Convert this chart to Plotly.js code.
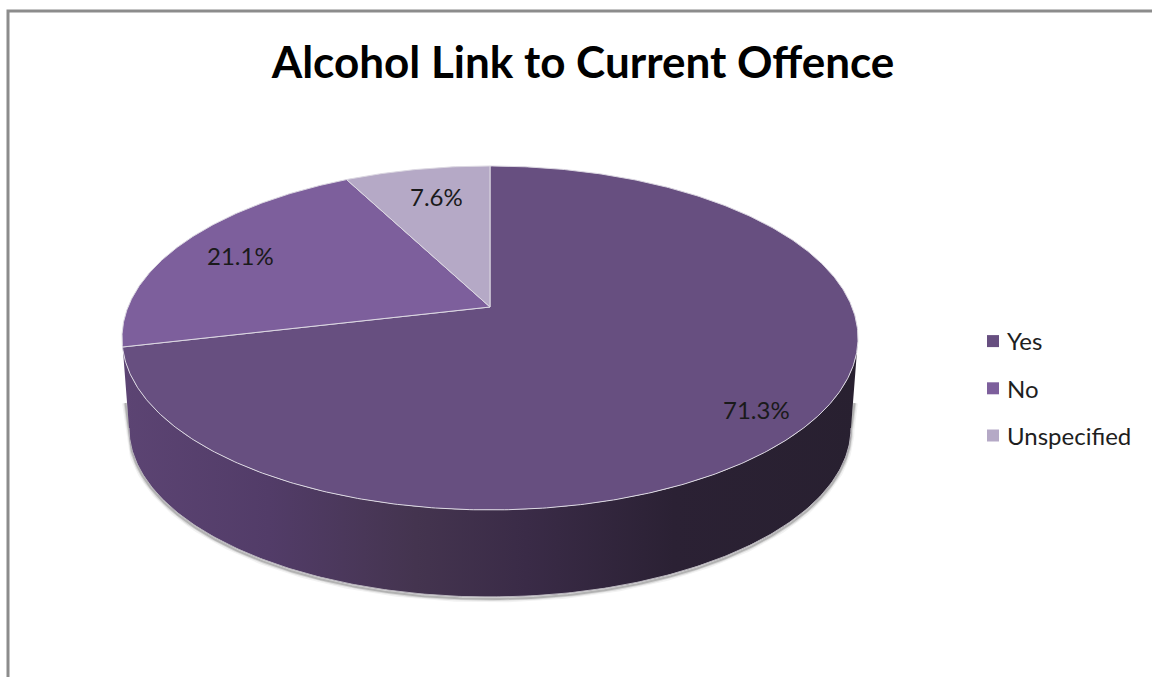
<!DOCTYPE html>
<html>
<head>
<meta charset="utf-8">
<script src="https://cdn.plot.ly/plotly-3.0.1.min.js"></script>
<style>html,body{margin:0;padding:0;background:#fff;overflow:hidden}</style>
</head>
<body>
<div id="chart" style="width:1152px;height:677px"></div>
<script>
// Chart content
const categories = ['Yes', 'No', 'Unspecified'];
const shares = [71.3, 21.1, 7.6];
const sliceColors = ['#674f80', '#7d5f9c', '#b5a9c6'];
const chartTitle = 'Alcohol Link to Current Offence';

// Where each percentage label sits on the disc
const labelX = [756, 240, 436];
const labelY = [409, 255, 196];

// Tilted-disc geometry: the hub is off the ellipse centre because of perspective
const hub = {x: 490, y: 307};
const radius = 362, depthScale = 166.4, tilt = 0.18;
const topRim = {x: 490, y: 338, rx: 368, ry: 172};
const baseRim = {x: 490, y: 428, rx: 361, ry: 169};
const SAMPLES = 720;

// Project a clockwise fraction of the circle (0 = twelve o'clock) onto the tilted disc
function project(fraction) {
  const a = fraction * 2 * Math.PI;
  const den = 1 + tilt * Math.cos(a);
  return [hub.x + radius * Math.sin(a) / den, hub.y - depthScale * Math.cos(a) / den];
}

// Lower half of a rim, walking left to right
function lowerArc(rim, dy) {
  const xs = [], ys = [];
  for (let i = 0; i <= 360; i++) {
    const t = Math.PI - Math.PI * i / 360;
    xs.push(rim.x + rim.rx * Math.cos(t));
    ys.push(rim.y + rim.ry * Math.sin(t) + (dy || 0));
  }
  return {x: xs, y: ys};
}

const total = shares.reduce((s, v) => s + v, 0);
const traces = [];

// Soft shadow hugging the base of the disc and running part way up its sides
const shadowArc = lowerArc(baseRim, 2);
const sideX = (topRim.rx + baseRim.rx) / 2;
const sideY = (topRim.y + baseRim.y) / 2 + 20;
const shadowX = [topRim.x - sideX].concat(shadowArc.x, [topRim.x + sideX]);
const shadowY = [sideY].concat(shadowArc.y, [sideY]);
[[7, 'rgba(0,0,0,0.05)'], [4, 'rgba(0,0,0,0.10)'], [2, 'rgba(0,0,0,0.18)']].forEach(([w, c]) => {
  traces.push({x: shadowX, y: shadowY, mode: 'lines', line: {color: c, width: w},
    showlegend: false, hoverinfo: 'skip'});
});

// Side wall, shaded from left to right
const upper = lowerArc(topRim), lower = lowerArc(baseRim);
traces.push({
  x: upper.x.concat(lower.x.slice().reverse()),
  y: upper.y.concat(lower.y.slice().reverse()),
  mode: 'lines', fill: 'toself', line: {color: 'rgba(0,0,0,0)', width: 0},
  fillgradient: {type: 'horizontal', colorscale: [
    [0, '#5c4473'], [0.2, '#523c68'], [0.4, '#44344f'], [0.55, '#3a2b47'], [0.75, '#2b2134'], [1, '#282030']
  ]},
  showlegend: false, hoverinfo: 'skip'
});
traces.push({x: lower.x, y: lower.y, mode: 'lines', line: {color: '#b9b5bd', width: 1},
  showlegend: false, hoverinfo: 'skip'});

// Top face: one wedge per category, clockwise from twelve o'clock
let cumulative = 0;
shares.forEach((value, i) => {
  const xs = [hub.x], ys = [hub.y];
  const steps = Math.max(2, Math.round(SAMPLES * value / total));
  for (let s = 0; s <= steps; s++) {
    const p = project((cumulative + value * s / steps) / total);
    xs.push(p[0]); ys.push(p[1]);
  }
  xs.push(hub.x); ys.push(hub.y);
  cumulative += value;
  traces.push({x: xs, y: ys, mode: 'lines', fill: 'toself', fillcolor: sliceColors[i],
    line: {color: '#dcd8e2', width: 1}, name: categories[i], legendgroup: categories[i],
    showlegend: false, hoverinfo: 'name'});
});

// Legend keys
categories.forEach((name, i) => {
  traces.push({x: [null], y: [null], mode: 'markers', name: name, legendgroup: name,
    marker: {symbol: 'square', size: 12, color: sliceColors[i]}, hoverinfo: 'skip'});
});

const layout = {
  width: 1152, height: 677,
  margin: {l: 0, r: 0, t: 0, b: 0},
  paper_bgcolor: '#ffffff', plot_bgcolor: '#ffffff',
  title: {text: '<b>' + chartTitle + '</b>', x: 583 / 1152, xanchor: 'center', y: 1 - 63 / 677, yanchor: 'middle',
    font: {family: 'Lato', size: 44, color: '#000000'}},
  xaxis: {visible: false, range: [0, 1152], fixedrange: true},
  yaxis: {visible: false, range: [677, 0], fixedrange: true},
  showlegend: true,
  legend: {x: 967 / 1152, xanchor: 'left', y: 1 - 319 / 677, yanchor: 'top', tracegroupgap: 13,
    bgcolor: 'rgba(0,0,0,0)', font: {family: 'Lato', size: 24, color: '#1e1e1e'}},
  shapes: [{type: 'path', path: 'M 8 677 L 8 11 L 1152 11', xref: 'x', yref: 'y',
    line: {color: '#8c8c8c', width: 3}}],
  annotations: shares.map((value, i) => ({
    x: labelX[i], y: labelY[i], xref: 'x', yref: 'y', showarrow: false,
    text: value.toFixed(1) + '%', font: {family: 'Lato', size: 24, color: '#1a1a1a'}
  }))
};

Plotly.newPlot('chart', traces, layout, {staticPlot: true, displayModeBar: false}).then(() => {
  // Tighten the gap between each key and its label
  document.querySelectorAll('#chart .legendsymbols').forEach(g => g.setAttribute('transform', 'translate(6,0)'));
});
</script>
</body>
</html>
